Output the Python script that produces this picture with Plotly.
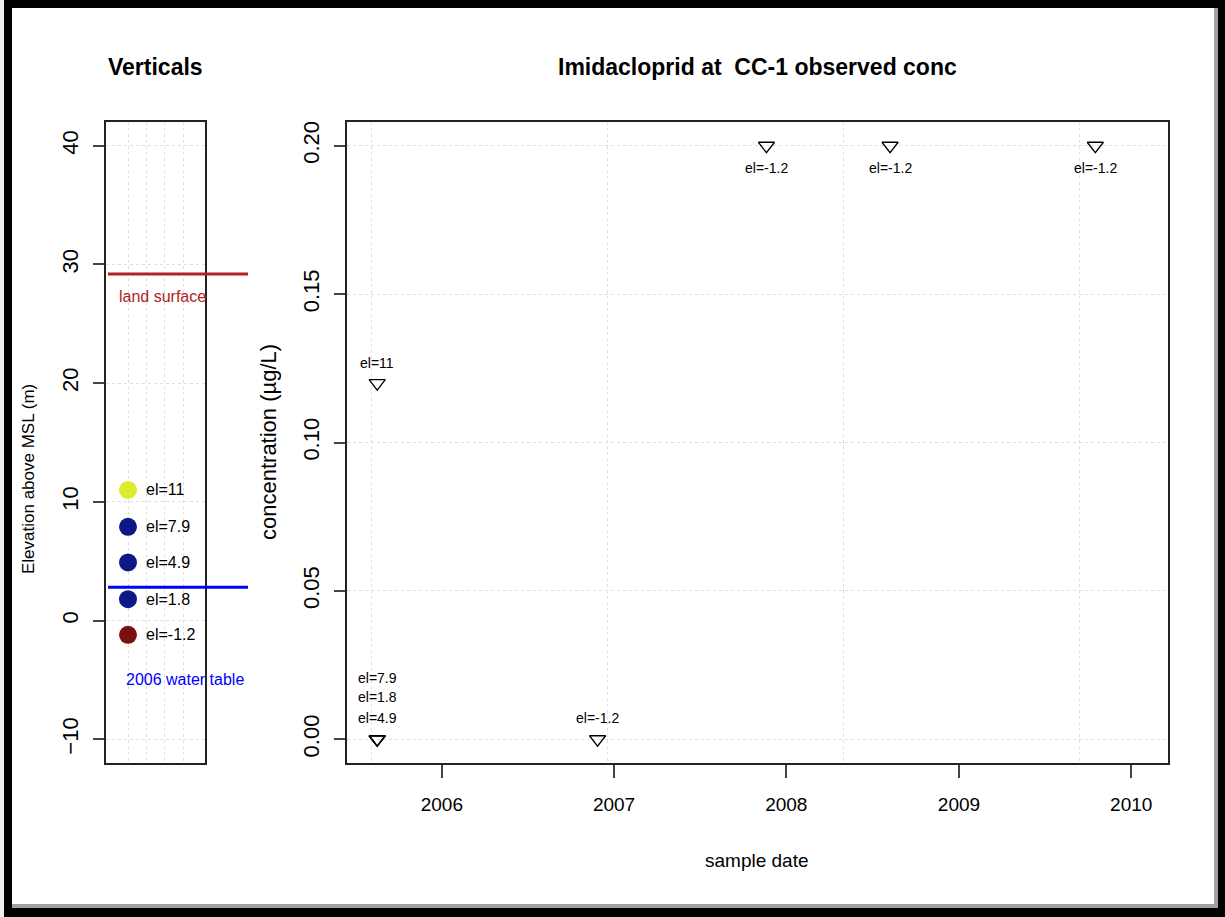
import plotly.graph_objects as go

# ---- data -------------------------------------------------------------
# sampling verticals at well CC-1 (elevation of screen, m above MSL)
vertical_elev = [11, 7.9, 4.9, 1.8, -1.2]
vertical_colors = ["#dcec2c", "#0c1888", "#0c1888", "#0c1888", "#7c1010"]
land_surface_elev = 29.2
water_table_2006 = 2.8

# observed imidacloprid concentrations
sample_dates = ["2005-08-17", "2005-08-17", "2005-08-17", "2005-08-17",
                "2006-11-27", "2007-11-20", "2008-08-08", "2009-10-17"]
conc_ugL = [0.12, 0.0, 0.0, 0.0, 0.0, 0.2, 0.2, 0.2]
sample_elev = [11, 7.9, 1.8, 4.9, -1.2, -1.2, -1.2, -1.2]

# axis ticks
elev_ticks = [-10, 0, 10, 20, 30, 40]
conc_ticks = [0.0, 0.05, 0.10, 0.15, 0.20]
year_ticks = ["2006", "2007", "2008", "2009", "2010"]
date_grid = ["2005-08-05", "2006-12-18", "2008-05-01", "2009-09-13"]

# ---- styling helpers --------------------------------------------------
W, H = 1225, 917
FONT = "Liberation Sans, Arial, Helvetica, sans-serif"


def px(x):
    return x / W


def py(y):
    return 1 - y / H


# vertical pixel offsets of the concentration labels (above > 0, below < 0)
label_shift = [20, 61, 42, 21, 21, -22, -22, -22]

fig = go.Figure()

# left panel: the verticals
fig.add_trace(go.Scatter(
    x=[0.2] * len(vertical_elev), y=vertical_elev, mode="markers",
    marker=dict(size=18, color=vertical_colors, line=dict(width=0)),
    xaxis="x", yaxis="y", showlegend=False, hoverinfo="skip", cliponaxis=False,
))

# right panel: observed concentrations
fig.add_trace(go.Scatter(
    x=sample_dates, y=conc_ugL, mode="markers",
    marker=dict(symbol="triangle-down-open", size=14, color="black",
                line=dict(width=1.3, color="black")),
    xaxis="x2", yaxis="y2", showlegend=False, cliponaxis=False,
))

annotations = []
for e in vertical_elev:
    annotations.append(dict(
        x=0.37, y=e, xref="x", yref="y", text=f"el={e:g}", showarrow=False,
        xanchor="left", yanchor="middle", font=dict(size=16, color="black", family=FONT),
    ))

annotations.append(dict(
    x=0.08, y=27.3, xref="x", yref="y", text="land surface", showarrow=False,
    xanchor="left", yanchor="middle", font=dict(size=16, color="#b22222", family=FONT),
))
annotations.append(dict(
    x=0.156, y=-5.0, xref="x", yref="y", text="2006 water table", showarrow=False,
    xanchor="left", yanchor="middle", font=dict(size=16, color="#0000ff", family=FONT),
))

for d, c, e, s in zip(sample_dates, conc_ugL, sample_elev, label_shift):
    annotations.append(dict(
        x=d, y=c, xref="x2", yref="y2", text=f"el={e:g}", showarrow=False,
        xanchor="center", yanchor="middle", yshift=s,
        font=dict(size=14, color="black", family=FONT),
    ))

# titles and axis titles
annotations += [
    dict(x=px(155), y=py(67), xref="paper", yref="paper", text="<b>Verticals</b>",
         showarrow=False, xanchor="center", yanchor="middle",
         font=dict(size=23, color="black", family=FONT)),
    dict(x=px(757), y=py(67), xref="paper", yref="paper",
         text="<b>Imidacloprid at\u00a0 CC-1 observed conc</b>",
         showarrow=False, xanchor="center", yanchor="middle",
         font=dict(size=23, color="black", family=FONT)),
    dict(x=px(28), y=py(479), xref="paper", yref="paper", text="Elevation above MSL (m)",
         showarrow=False, textangle=-90, xanchor="center", yanchor="middle",
         font=dict(size=17, color="black", family=FONT)),
    dict(x=px(268), y=py(442), xref="paper", yref="paper", text="concentration (µg/L)",
         showarrow=False, textangle=-90, xanchor="center", yanchor="middle",
         font=dict(size=22, color="black", family=FONT)),
    dict(x=px(757), y=py(860), xref="paper", yref="paper", text="sample date",
         showarrow=False, xanchor="center", yanchor="middle",
         font=dict(size=19, color="black", family=FONT)),
]

shapes = [
    # land surface and water table lines, running past the panel edge
    dict(type="line", xref="paper", yref="y", x0=px(108), x1=px(248),
         y0=land_surface_elev, y1=land_surface_elev, line=dict(color="#b22222", width=3)),
    dict(type="line", xref="paper", yref="y", x0=px(108), x1=px(248),
         y0=water_table_2006, y1=water_table_2006, line=dict(color="#0000ff", width=3)),
    # page frame
    dict(type="rect", xref="paper", yref="paper", x0=0, x1=px(4), y0=0, y1=1,
         fillcolor="#f0f0f0", line=dict(width=0), layer="below"),
    dict(type="rect", xref="paper", yref="paper", x0=px(4), x1=px(12), y0=0, y1=1,
         fillcolor="black", line=dict(width=0)),
    dict(type="rect", xref="paper", yref="paper", x0=px(4), x1=1, y0=py(8), y1=1,
         fillcolor="black", line=dict(width=0)),
    dict(type="rect", xref="paper", yref="paper", x0=px(1214), x1=px(1218), y0=py(907), y1=py(8),
         fillcolor="#a0a0a0", line=dict(width=0)),
    dict(type="rect", xref="paper", yref="paper", x0=px(1218), x1=1, y0=0, y1=1,
         fillcolor="black", line=dict(width=0)),
    dict(type="rect", xref="paper", yref="paper", x0=px(12), x1=px(1218), y0=py(908), y1=py(904),
         fillcolor="#a0a0a0", line=dict(width=0)),
    dict(type="rect", xref="paper", yref="paper", x0=px(4), x1=1, y0=0, y1=py(908),
         fillcolor="black", line=dict(width=0)),
]

grid = dict(gridcolor="#dedede", griddash="dot", gridwidth=1)
axis_common = dict(showline=True, mirror=True, linecolor="#222222", linewidth=1.5,
                   zeroline=False, tickcolor="#444444", tickwidth=1.5)

ydom = [py(763), py(122)]

fig.update_layout(
    width=W, height=H, autosize=False,
    margin=dict(l=0, r=0, t=0, b=0),
    paper_bgcolor="white", plot_bgcolor="white",
    font=dict(family=FONT, color="black"),
    xaxis=dict(domain=[px(106), px(205)], range=[-0.04, 1.04],
               tickmode="array", tickvals=[0.2, 0.4, 0.6, 0.8], showticklabels=False,
               ticks="", showgrid=True, **grid, **axis_common),
    yaxis=dict(domain=ydom, range=[-12, 42], tickmode="array", tickvals=elev_ticks,
               ticks="outside", ticklen=11, tickangle=-90, ticklabelstandoff=6,
               tickfont=dict(size=22, family=FONT, color="black"),
               showgrid=True, **grid, **axis_common),
    xaxis2=dict(domain=[px(347), px(1168)], anchor="y2", type="date",
                range=["2005-06-14", "2010-03-20"],
                tickmode="array", tickvals=[f"{y}-01-01" for y in year_ticks],
                ticktext=year_ticks, ticks="outside", ticklen=13, ticklabelstandoff=10,
                tickfont=dict(size=19, family=FONT, color="black"),
                showgrid=False,
                minor=dict(tickmode="array", tickvals=date_grid, showgrid=True, ticks="",
                           gridcolor="#dedede", griddash="dot", gridwidth=1),
                **axis_common),
    yaxis2=dict(domain=ydom, anchor="x2", range=[-0.008, 0.208], tickmode="array",
                tickvals=conc_ticks, tickformat=".2f", ticks="outside", ticklen=11,
                tickangle=-90, ticklabelstandoff=6,
                tickfont=dict(size=22, family=FONT, color="black"),
                showgrid=True, **grid, **axis_common),
    annotations=annotations,
    shapes=shapes,
)

fig.write_html("out.html")
